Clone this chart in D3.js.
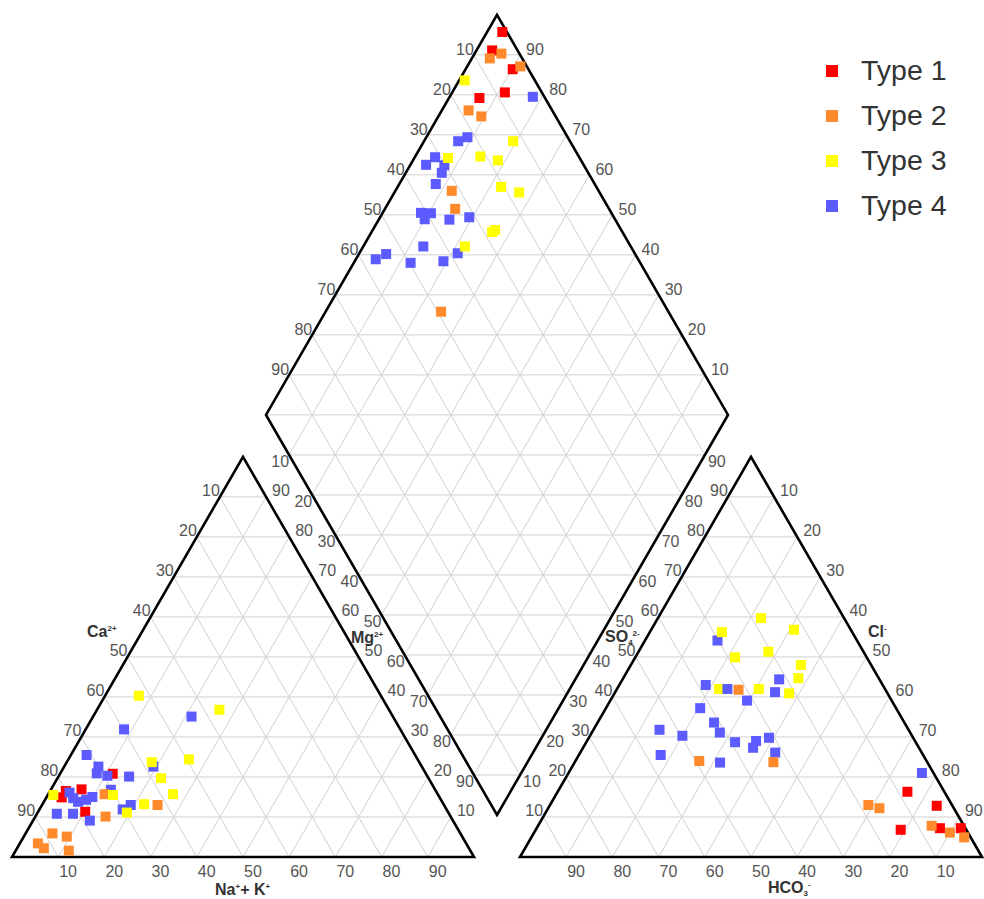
<!DOCTYPE html>
<html>
<head>
<meta charset="utf-8">
<script src="https://cdn.jsdelivr.net/npm/d3@7"></script>
<style>
  body { margin: 0; background: #fff; }
  svg text { font-family: "Liberation Sans", Arial, sans-serif; }
</style>
</head>
<body>
<svg id="chart" width="984" height="899"></svg>
<script>
// ---- data -------------------------------------------------------------
const typeNames  = ["Type 1", "Type 2", "Type 3", "Type 4"];
const typeColors = ["#ff0000", "#ff8a2c", "#ffff00", "#5b5bff"];
const tickValues = [10, 20, 30, 40, 50, 60, 70, 80, 90];

// water type of each sample (index into typeNames, 1-based)
const sampleType = [
  1, 1, 1, 1, 1,
  4, 4, 4, 4, 4, 4, 4, 4, 4, 4, 4, 4, 4, 4, 4, 4, 4, 4,
  2, 2, 2, 2, 2, 2, 2, 2,
  3, 3, 3, 3, 3, 3, 3, 3, 3, 3,
  4
];
// cations, % meq/L
const caPct = [
  81.8, 80.1, 78.5, 67.8, 76.5,
  70.1, 78.8, 76.8, 79.5, 70.0, 81.4, 71.2, 59.8, 75.1, 69.2, 64.6, 58.1, 70.2, 79.4, 84.9, 78.6, 67.8, 43.6,
  88.3, 92.7, 86.9, 92.0, 85.6, 72.1, 74.7, 62.0,
  83.3, 69.6, 52.4, 70.4, 57.9, 57.9, 64.8, 57.3, 36.7, 49.5,
  71.1
];
const mgPct = [
  14.9, 16.5, 11.3, 20.8, 16.9,
  11.9, 13.8, 14.3, 16.1, 22.6, 10.8, 20.9, 31.9, 15.0, 20.3, 20.1, 22.6, 16.8, 14.7, 10.8, 9.1, 13.0, 35.1,
  5.9, 3.4, 1.6, 2.2, 5.1, 15.7, 10.1, 13.0,
  15.5, 11.1, 40.3, 15.5, 23.7, 19.7, 13.2, 15.7, 36.8, 24.4,
  25.5
];
const naKPct = [
  3.3, 3.4, 10.2, 11.4, 6.6,
  18.0, 7.4, 8.9, 4.4, 7.4, 7.8, 7.9, 8.3, 9.9, 10.5, 15.3, 19.3, 13.0, 5.9, 4.3, 12.3, 19.2, 21.3,
  5.8, 3.9, 11.5, 5.8, 9.3, 12.2, 15.2, 25.0,
  1.2, 19.3, 7.3, 14.1, 18.4, 22.4, 22.0, 27.0, 26.5, 26.1,
  3.4
];
// anions, % meq/L
const hco3Pct = [
  1.0, 5.5, 3.4, 8.0, 14.2,
  2.5, 24.2, 21.7, 31.2, 30.2, 31.7, 34.4, 41.2, 41.2, 39.1, 35.9, 31.3, 44.9, 53.9, 56.8, 49.7, 42.4, 38.3,
  3.9, 7.0, 1.4, 18.1, 16.1, 31.8, 33.3, 49.2,
  15.2, 12.3, 28.5, 21.3, 18.0, 20.6, 35.9, 17.4, 27.3, 28.2,
  34.1
];
const so4Pct = [
  7.2, 7.2, 12.8, 16.3, 6.8,
  21.0, 41.2, 44.4, 29.8, 54.1, 26.1, 29.0, 33.6, 31.1, 28.7, 27.3, 39.1, 23.6, 31.8, 25.5, 30.3, 37.2, 43.0,
  6.1, 7.8, 4.9, 13.0, 12.2, 41.8, 23.7, 24.0,
  48.0, 56.8, 49.9, 40.9, 59.7, 51.3, 42.0, 44.7, 42.0, 56.2,
  42.0
];
const clPct = [
  91.8, 87.3, 83.8, 75.7, 79.0,
  76.5, 34.6, 33.9, 39.0, 15.7, 42.2, 36.6, 25.2, 27.7, 32.2, 36.8, 29.6, 31.5, 14.3, 17.7, 20.0, 20.4, 18.7,
  90.0, 85.2, 93.7, 68.9, 71.7, 26.4, 43.0, 26.8,
  36.8, 30.9, 21.6, 37.8, 22.3, 28.1, 22.1, 37.9, 30.7, 15.6,
  23.9
];

// ---- layout -------------------------------------------------------------
const side = 462;
const triH = side * Math.sqrt(3) / 2;
const baseLine = 857;          // bottom of both triangles
const catLeft = 12;            // Ca corner of cation triangle
const anLeft = 520;            // HCO3 corner of anion triangle
const diaCx = 497, diaBottom = 815;

const catX = d3.scaleLinear().domain([0, 100]).range([catLeft, catLeft + side]);
const anX  = d3.scaleLinear().domain([0, 100]).range([anLeft, anLeft + side]);
const triY = d3.scaleLinear().domain([0, 100]).range([baseLine, baseLine - triH]);
const diaX = d3.scaleLinear().domain([-100, 100]).range([diaCx - side / 2, diaCx + side / 2]);
const diaY = d3.scaleLinear().domain([0, 200]).range([diaBottom, diaBottom - 2 * triH]);

// ternary → screen
const catPt = (nak, mg) => [catX(nak + mg / 2), triY(mg)];
const anPt  = (cl, so4) => [anX(cl + so4 / 2), triY(so4)];
// diamond: u = SO4 + Cl, v = Ca + Mg
const diaPt = (u, v) => [diaX(u - v), diaY(u + v)];

const svg = d3.select("#chart");

// ---- grid -------------------------------------------------------------
const grid = svg.append("g").attr("stroke", "#d0d0d0").attr("stroke-width", 1).attr("fill", "none");
const seg = (g, p, q) => g.append("line")
  .attr("x1", p[0]).attr("y1", p[1]).attr("x2", q[0]).attr("y2", q[1]);

tickValues.forEach(k => {
  [catPt, anPt].forEach(P => {
    seg(grid, P(0, k), P(100 - k, k));
    seg(grid, P(k, 0), P(k, 100 - k));
    seg(grid, P(100 - k, 0), P(0, 100 - k));
  });
  seg(grid, diaPt(k, 0), diaPt(k, 100));
  seg(grid, diaPt(0, k), diaPt(100, k));
  seg(grid, diaPt(k, 0), diaPt(0, k));
  seg(grid, diaPt(100, k), diaPt(k, 100));
});
seg(grid, diaPt(100, 0), diaPt(0, 100));

// ---- outlines ---------------------------------------------------------
const outline = svg.append("g").attr("stroke", "#000").attr("stroke-width", 2.6)
  .attr("fill", "none").attr("stroke-linejoin", "miter");
const poly = pts => outline.append("polygon").attr("points", pts.map(p => p.join(",")).join(" "));
poly([catPt(0, 0), catPt(100, 0), catPt(0, 100)]);
poly([anPt(0, 0), anPt(100, 0), anPt(0, 100)]);
poly([diaPt(0, 0), diaPt(100, 0), diaPt(100, 100), diaPt(0, 100)]);

// ---- tick labels ------------------------------------------------------
const lab = svg.append("g").attr("font-size", 16).attr("fill", "#555");
const put = (p, text, anchor, dx, dy) => lab.append("text")
  .attr("x", p[0] + dx).attr("y", p[1] + dy).attr("text-anchor", anchor).text(text);

tickValues.forEach(k => {
  // cation triangle
  put([catPt(k, 0)[0], baseLine], k, "start", 1, 20);        // Na+K
  put(catPt(0, 100 - k), k, "end", 0, -1);                   // Ca
  put(catPt(100 - k, k), k, "start", 6, -1);                 // Mg
  // anion triangle
  put([anPt(100 - k, 0)[0], baseLine], k, "start", 1, 20);   // HCO3
  put(anPt(0, k), k, "end", 0, -1);                          // SO4
  put(anPt(k, 100 - k), k, "start", 6, -1);                  // Cl
  // diamond
  put(diaPt(100 - k, 100), k, "end", 0, 0);
  put(diaPt(100, k), k, "start", 6, 0);
  put(diaPt(0, 100 - k), k, "end", 0, 12);
  put(diaPt(k, 0), k, "start", 3, 12);
});

// ---- axis titles ------------------------------------------------------
const titles = svg.append("g").attr("font-size", 16).attr("font-weight", "bold").attr("fill", "#333");
function ion(x, y, parts) {
  const t = titles.append("text").attr("x", x).attr("y", y);
  let shift = 0;
  parts.forEach(([s, kind]) => {
    const target = kind === "sup" ? -6 : kind === "sub" ? 3 : 0;
    t.append("tspan")
      .attr("dy", target - shift)
      .attr("font-size", kind ? 8 : 16)
      .text(s);
    shift = target;
  });
  return t;
}
ion(87, 637, [["Ca"], ["2+", "sup"]]);
ion(351, 643, [["Mg"], ["2+", "sup"]]);
ion(605, 642, [["SO"], ["4", "sub"], ["2-", "sup"]]);
ion(868, 637, [["Cl"], ["-", "sup"]]);
ion(215, 895, [["Na"], ["+", "sup"], ["+ K"], ["+", "sup"]]);
ion(768, 893, [["HCO"], ["3", "sub"], ["-", "sup"]]);

// ---- samples ----------------------------------------------------------
const samples = sampleType.map((t, i) => ({
  type: t, ca: caPct[i], mg: mgPct[i], nak: naKPct[i],
  hco3: hco3Pct[i], so4: so4Pct[i], cl: clPct[i]
}));
const mk = 10;
const pts = svg.append("g");
samples.forEach(d => {
  const color = typeColors[d.type - 1];
  const u = d.so4 + d.cl, v = d.ca + d.mg;
  [catPt(d.nak, d.mg), anPt(d.cl, d.so4), diaPt(u, v)].forEach(p => {
    pts.append("rect")
      .attr("x", p[0] - mk / 2).attr("y", p[1] - mk / 2)
      .attr("width", mk).attr("height", mk)
      .attr("fill", color);
  });
});

// ---- legend -----------------------------------------------------------
const legend = svg.append("g").attr("transform", "translate(826,71)");
typeNames.forEach((name, i) => {
  const row = legend.append("g").attr("transform", `translate(0,${i * 45})`);
  row.append("rect").attr("x", 0).attr("y", -6).attr("width", 12).attr("height", 12)
    .attr("fill", typeColors[i]);
  row.append("text").attr("x", 35).attr("y", 9).attr("font-size", 28.5).attr("fill", "#333")
    .text(name);
});
</script>
</body>
</html>
